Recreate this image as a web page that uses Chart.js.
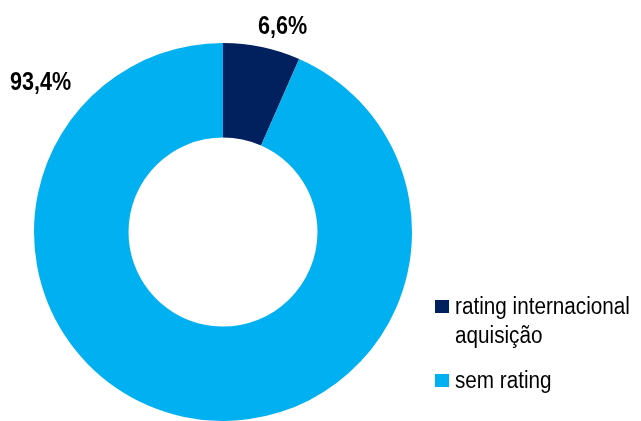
<!DOCTYPE html>
<html>
<head>
<meta charset="utf-8">
<script src="https://cdn.jsdelivr.net/npm/chart.js@4"></script>
<style>
  html, body { margin: 0; padding: 0; background: #fff; overflow: hidden; }
  #wrap { width: 641px; height: 421px; position: relative; }
</style>
</head>
<body>
<div id="wrap"><canvas id="donut"></canvas></div>
<script>
// dados
const categories = [["rating internacional", "aquisição"], ["sem rating"]];
const shares = [6.6, 93.4];
const sliceColors = ["#00215E", "#00B0F0"];
// posição dos rótulos relativa ao centro, em fração do raio externo
const labelOffsets = [[0.315, -1.085], [-0.965, -0.79]];

const FONT = "'Liberation Sans Narrow', 'Arial Narrow', 'Liberation Sans', Arial, sans-serif";

const fmt = (v) => v.toFixed(1).replace(".", ",") + "%";

// texto estreito (sem fonte "narrow" instalada, comprime na horizontal)
function narrowText(ctx, text, x, y, sx) {
  ctx.save();
  ctx.translate(x, y);
  ctx.scale(sx, 1);
  ctx.fillText(text, 0, 0);
  ctx.restore();
}

const labelsPlugin = {
  id: "pieLabels",
  afterDraw(chart) {
    const ctx = chart.ctx;
    const arc = chart.getDatasetMeta(0).data[0];
    const cx = arc.x, cy = arc.y, r = arc.outerRadius;
    ctx.save();
    ctx.fillStyle = "#000";
    ctx.font = "bold 26px " + FONT;
    ctx.textAlign = "center";
    ctx.textBaseline = "middle";
    shares.forEach((v, i) => {
      const o = labelOffsets[i];
      narrowText(ctx, fmt(v), cx + o[0] * r, cy + o[1] * r, 0.83);
    });

    // legenda
    let y = 314;
    ctx.font = "23px " + FONT;
    ctx.textAlign = "left";
    ctx.textBaseline = "alphabetic";
    categories.forEach((lines, i) => {
      ctx.fillStyle = sliceColors[i];
      ctx.fillRect(435, y - 14, 14, 13);
      ctx.fillStyle = "#000";
      lines.forEach((t, j) => {
        narrowText(ctx, t, 455, y + j * 29, 0.9);
      });
      y += (lines.length - 1) * 29 + 45;
    });
    ctx.restore();
  }
};

new Chart(document.getElementById("donut"), {
  type: "doughnut",
  data: {
    labels: categories.map((c) => c.join(" ")),
    datasets: [{
      data: shares,
      backgroundColor: sliceColors,
      borderWidth: 0
    }]
  },
  options: {
    responsive: true,
    maintainAspectRatio: false,
    animation: false,
    cutout: "50%",
    layout: { padding: { left: 33, right: 228, top: 43, bottom: -2 } },
    plugins: {
      legend: { display: false },
      tooltip: { enabled: false }
    }
  },
  plugins: [labelsPlugin]
});
</script>
</body>
</html>
